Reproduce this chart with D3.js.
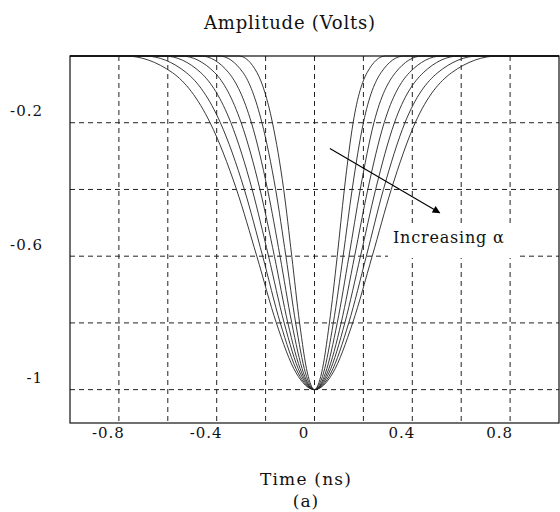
<!DOCTYPE html>
<html>
<head>
<meta charset="utf-8">
<script src="https://cdn.jsdelivr.net/npm/d3@7"></script>
<style>
  body { margin: 0; background: #fff; }
  text { font-family: "DejaVu Serif", serif; fill: #111; }
</style>
</head>
<body>
<svg id="chart" width="560" height="512"></svg>
<script>
const levels = [0, -0.05, -0.2, -0.4, -0.6, -0.8, -0.95];
// time (ns) of the falling edge at each level, one row per alpha (small -> large)
const fallEdge = [
  [-0.310, -0.235, -0.172, -0.126, -0.093, -0.061, -0.029],
  [-0.390, -0.292, -0.215, -0.159, -0.117, -0.077, -0.037],
  [-0.465, -0.351, -0.258, -0.192, -0.141, -0.093, -0.045],
  [-0.545, -0.408, -0.300, -0.223, -0.164, -0.109, -0.052],
  [-0.615, -0.465, -0.342, -0.255, -0.188, -0.124, -0.059],
  [-0.695, -0.524, -0.385, -0.287, -0.212, -0.140, -0.067],
  [-0.775, -0.581, -0.427, -0.319, -0.236, -0.156, -0.075]
];
// time (ns) of the rising edge at each level
const riseEdge = [
  [0.290, 0.215, 0.158, 0.122, 0.093, 0.061, 0.029],
  [0.365, 0.272, 0.200, 0.154, 0.117, 0.077, 0.037],
  [0.440, 0.331, 0.243, 0.187, 0.141, 0.093, 0.045],
  [0.520, 0.388, 0.285, 0.218, 0.164, 0.109, 0.052],
  [0.590, 0.445, 0.327, 0.250, 0.188, 0.124, 0.059],
  [0.670, 0.504, 0.370, 0.282, 0.212, 0.140, 0.067],
  [0.750, 0.561, 0.412, 0.314, 0.236, 0.156, 0.075]
];
const peakTime = 0, peakValue = -1;

const xTicks = [-0.8, -0.4, 0, 0.4, 0.8];
const yTicks = [-0.2, -0.6, -1];
const xGrid = [-0.8, -0.6, -0.4, -0.2, 0, 0.2, 0.4, 0.6, 0.8];
const yGrid = [-0.2, -0.4, -0.6, -0.8, -1];
// arrow for the "Increasing alpha" note: [time, amplitude]
const arrowFrom = [0.063, -0.277], arrowTo = [0.512, -0.47];

let margin = {top: 56, left: 70, right: 1, bottom: 89};
let W = 560, H = 512;
let svg = d3.select('#chart');

let x = d3.scaleLinear().domain([-1, 1]).range([margin.left, W - margin.right]);
let y = d3.scaleLinear().domain([0, -1.1]).range([margin.top, H - margin.bottom]);

// grid
let grid = svg.append('g').attr('class', 'grid')
  .attr('stroke', '#222').attr('stroke-width', 1).attr('stroke-dasharray', '5,4');
grid.selectAll('.gx').data(xGrid).enter().append('line')
  .attr('x1', d => x(d)).attr('x2', d => x(d))
  .attr('y1', y(0)).attr('y2', y(-1.1));
grid.selectAll('.gy').data(yGrid).enter().append('line')
  .attr('y1', d => y(d)).attr('y2', d => y(d))
  .attr('x1', x(-1)).attr('x2', x(1));

// pulses
let line = d3.line()
  .x(d => x(d[0])).y(d => y(d[1]))
  .curve(d3.curveMonotoneX);
let pulses = fallEdge.map((fe, i) => {
  let pts = [[-1, 0]];
  fe.forEach((t, j) => pts.push([t, levels[j]]));
  pts.push([peakTime, peakValue]);
  riseEdge[i].slice().reverse().forEach((t, j) => pts.push([t, levels[levels.length - 1 - j]]));
  pts.push([1, 0]);
  return pts;
});
svg.append('g').selectAll('path').data(pulses).enter().append('path')
  .attr('d', line)
  .attr('fill', 'none').attr('stroke', '#222').attr('stroke-width', 0.9);

// frame
svg.append('rect')
  .attr('x', x(-1)).attr('y', y(0))
  .attr('width', x(1) - x(-1)).attr('height', y(-1.1) - y(0))
  .attr('fill', 'none').attr('stroke', '#111').attr('stroke-width', 1.2);

// tick labels
let xAxis = svg.append('g').attr('transform', 'translate(0,' + y(-1.1) + ')')
  .call(d3.axisBottom(x).tickValues(xTicks).tickSize(0).tickPadding(4).tickFormat(d => String(d)));
xAxis.select('.domain').remove();
xAxis.selectAll('text').attr('dx', -11)
  .style('font-size', '15px').style('letter-spacing', '1px').style('font-family', '"DejaVu Serif", serif');

let yAxis = svg.append('g').attr('transform', 'translate(' + (x(-1) - 27) + ',0)')
  .call(d3.axisLeft(y).tickValues(yTicks).tickSize(0).tickPadding(0).tickFormat(d => String(d)));
yAxis.select('.domain').remove();
yAxis.selectAll('text').attr('dy', '-0.45em')
  .style('font-size', '15px').style('letter-spacing', '1px').style('font-family', '"DejaVu Serif", serif');

// titles
svg.append('text').attr('x', 290).attr('y', 29).attr('text-anchor', 'middle')
  .style('font-size', '18px').style('letter-spacing', '0.8px').text('Amplitude (Volts)');
svg.append('text').attr('x', 306).attr('y', 485).attr('text-anchor', 'middle')
  .style('font-size', '17px').style('letter-spacing', '1.2px').text('Time (ns)');
svg.append('text').attr('x', 306).attr('y', 507).attr('text-anchor', 'middle')
  .style('font-size', '17px').style('letter-spacing', '1px').text('(a)');

// annotation
svg.append('defs').append('marker')
  .attr('id', 'head').attr('viewBox', '0 0 10 10').attr('refX', 9).attr('refY', 5)
  .attr('markerWidth', 9).attr('markerHeight', 7).attr('orient', 'auto')
  .append('path').attr('d', 'M0,0L10,5L0,10z').attr('fill', '#000');
svg.append('rect').attr('x', 388).attr('y', 226).attr('width', 130).attr('height', 32).attr('fill', '#fff');
svg.append('line')
  .attr('x1', x(arrowFrom[0])).attr('y1', y(arrowFrom[1]))
  .attr('x2', x(arrowTo[0])).attr('y2', y(arrowTo[1]))
  .attr('stroke', '#000').attr('stroke-width', 1.1).attr('marker-end', 'url(#head)');
svg.append('text').attr('x', 393).attr('y', 243)
  .style('font-size', '16px').style('letter-spacing', '0.8px').text('Increasing α');
</script>
</body>
</html>
